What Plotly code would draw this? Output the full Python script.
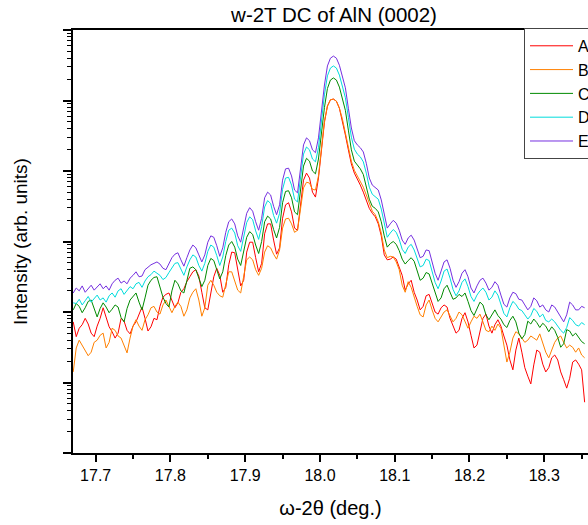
import math
import plotly.graph_objects as go

# Scan grid (omega-2theta, degrees)
SCAN_START = 17.670
SCAN_STEP = 0.004

series_names = ["A", "B", "C", "D", "E"]
series_colors = ["#ff0000", "#ff8000", "#008a00", "#00dcdc", "#7530e0"]

# log10 of intensity (arb. units), one value per scan step
A = [1.86,1.65,1.77,1.82,1.91,1.83,1.70,1.65,1.80,1.91,
     2.06,1.94,1.79,1.72,1.63,1.70,1.91,1.87,1.74,1.69,
     1.80,1.86,1.96,2.07,1.91,1.73,1.79,1.91,1.89,2.08,
     2.21,2.25,2.27,2.17,2.06,2.13,2.28,2.33,2.43,2.50,
     2.57,2.60,2.51,2.28,2.06,2.03,2.24,2.50,2.62,2.52,
     2.28,2.35,2.67,2.85,2.84,2.60,2.37,2.45,2.85,2.99,
     2.99,2.77,2.57,2.69,3.11,3.25,3.25,3.02,2.82,2.91,
     3.33,3.52,3.55,3.42,3.19,3.16,3.52,3.87,3.97,3.90,
     3.70,3.63,3.90,4.33,4.69,4.92,5.01,5.02,4.99,4.89,
     4.72,4.51,4.30,4.10,3.97,3.89,3.80,3.70,3.59,3.47,
     3.40,3.35,3.25,3.08,2.81,2.74,2.75,2.78,2.75,2.62,
     2.52,2.31,2.40,2.45,2.28,2.17,2.03,2.08,2.23,2.25,
     2.11,2.00,1.97,2.06,2.10,2.07,1.91,1.80,1.70,1.74,
     1.91,1.99,1.86,1.67,1.49,1.53,1.70,1.91,1.97,1.80,
     1.70,1.82,1.89,1.80,1.66,1.53,1.32,1.18,1.46,1.63,
     1.43,1.21,1.09,0.98,1.25,1.46,1.43,1.26,1.15,1.21,
     1.35,1.39,1.32,1.15,1.04,0.92,1.06,1.29,1.32,1.26,1.18,0.72]

B = [1.15,1.49,1.60,1.53,1.46,1.38,1.43,1.57,1.60,1.67,
     1.70,1.49,1.57,1.77,1.74,1.66,1.63,1.52,1.42,1.63,
     1.80,1.89,1.80,1.74,1.89,1.96,2.06,2.08,2.00,1.97,
     2.10,2.17,2.07,1.99,2.08,2.14,2.08,1.94,2.03,2.20,
     2.28,2.33,2.17,1.94,2.06,2.38,2.45,2.38,2.28,2.23,
     2.21,2.41,2.57,2.57,2.45,2.31,2.27,2.48,2.74,2.78,
     2.74,2.60,2.52,2.62,2.85,2.94,2.91,2.82,2.75,2.88,
     3.19,3.32,3.33,3.25,3.13,3.16,3.45,3.76,3.84,3.83,
     3.74,3.73,3.93,4.35,4.71,4.92,5.01,5.02,4.99,4.89,
     4.74,4.54,4.33,4.14,4.01,3.93,3.86,3.77,3.66,3.53,
     3.43,3.38,3.28,3.12,2.88,2.77,2.79,2.78,2.71,2.60,
     2.38,2.28,2.43,2.35,2.20,2.08,1.96,1.93,2.10,2.17,
     2.03,1.91,1.86,1.94,2.00,2.03,1.94,1.86,1.91,2.00,
     1.96,1.86,1.77,1.86,1.94,1.91,1.97,1.86,1.74,1.72,
     1.80,1.74,1.83,1.77,1.53,1.29,1.43,1.63,1.72,1.69,
     1.63,1.57,1.60,1.66,1.63,1.60,1.69,1.57,1.43,1.35,
     1.46,1.57,1.63,1.66,1.57,1.49,1.53,1.50,1.43,1.49,1.39,1.35]

C = [2.03,2.12,2.08,1.99,2.06,2.15,2.17,2.04,1.93,2.05,
     2.13,2.07,1.99,2.04,2.10,2.07,1.92,1.86,2.05,2.17,
     2.22,2.27,2.14,2.03,2.20,2.38,2.45,2.49,2.50,2.36,
     2.21,2.12,2.07,2.30,2.45,2.40,2.30,2.27,2.45,2.62,
     2.64,2.60,2.48,2.36,2.45,2.66,2.76,2.73,2.60,2.47,
     2.57,2.80,2.95,3.00,2.92,2.75,2.66,2.86,3.06,3.14,
     3.10,2.95,2.83,3.00,3.28,3.36,3.32,3.17,3.05,3.20,
     3.55,3.71,3.72,3.62,3.42,3.38,3.70,4.07,4.18,4.14,
     4.00,3.96,4.17,4.56,4.90,5.17,5.29,5.32,5.29,5.19,
     5.04,4.86,4.58,4.30,4.14,4.08,4.03,3.95,3.79,3.60,
     3.50,3.47,3.42,3.28,3.08,2.92,2.97,3.00,2.96,2.87,
     2.75,2.68,2.73,2.77,2.72,2.58,2.45,2.48,2.56,2.54,
     2.40,2.26,2.15,2.20,2.33,2.38,2.28,2.18,2.20,2.25,
     2.22,2.27,2.15,2.02,1.95,2.05,2.14,2.10,1.96,1.89,
     1.97,2.03,1.95,1.90,1.82,1.78,1.88,1.94,1.86,1.70,
     1.62,1.68,1.87,1.83,1.90,1.85,1.78,1.84,1.80,1.72,
     1.79,1.74,1.64,1.50,1.55,1.75,1.73,1.66,1.70,1.63,1.58,1.55]

D = [2.13,2.12,2.18,2.10,2.16,2.22,2.14,2.19,2.24,2.17,
     2.20,2.14,2.23,2.27,2.21,2.30,2.33,2.25,2.31,2.36,
     2.33,2.40,2.42,2.35,2.44,2.50,2.53,2.58,2.55,2.52,
     2.46,2.49,2.56,2.63,2.69,2.70,2.60,2.52,2.64,2.74,
     2.81,2.78,2.66,2.58,2.69,2.86,2.95,2.92,2.80,2.66,
     2.78,3.00,3.16,3.19,3.12,2.94,2.86,3.06,3.27,3.35,
     3.31,3.15,3.03,3.21,3.49,3.58,3.54,3.37,3.26,3.40,
     3.74,3.90,3.91,3.80,3.60,3.56,3.88,4.24,4.34,4.30,
     4.17,4.13,4.33,4.73,5.08,5.35,5.46,5.49,5.46,5.36,
     5.21,5.04,4.76,4.48,4.31,4.24,4.20,4.13,3.97,3.77,
     3.67,3.64,3.60,3.46,3.26,3.06,3.12,3.17,3.13,3.03,
     2.89,2.83,2.92,2.96,2.88,2.75,2.64,2.66,2.75,2.73,
     2.58,2.42,2.33,2.44,2.58,2.61,2.48,2.32,2.23,2.30,
     2.42,2.47,2.36,2.22,2.15,2.24,2.30,2.34,2.28,2.17,
     2.21,2.30,2.24,2.10,1.98,1.93,2.06,2.15,2.11,2.04,
     2.02,1.96,1.90,1.95,2.05,2.01,1.93,1.97,1.88,1.86,
     1.90,1.86,1.80,1.74,1.70,1.78,1.92,1.88,1.82,1.80,1.85,1.82]

E = [2.27,2.34,2.30,2.37,2.28,2.33,2.38,2.31,2.35,2.40,
     2.33,2.37,2.31,2.40,2.45,2.48,2.41,2.44,2.40,2.48,
     2.52,2.57,2.50,2.51,2.60,2.64,2.67,2.69,2.71,2.68,
     2.62,2.60,2.68,2.77,2.82,2.84,2.74,2.65,2.77,2.88,
     2.95,2.91,2.81,2.71,2.81,2.99,3.08,3.06,2.94,2.79,
     2.91,3.13,3.28,3.32,3.25,3.08,2.99,3.19,3.40,3.48,
     3.43,3.28,3.16,3.33,3.62,3.70,3.66,3.50,3.38,3.52,
     3.87,4.03,4.04,3.93,3.73,3.69,4.01,4.37,4.47,4.43,
     4.30,4.26,4.47,4.87,5.22,5.49,5.60,5.63,5.60,5.50,
     5.35,5.18,4.89,4.61,4.43,4.37,4.33,4.27,4.11,3.90,
     3.80,3.77,3.73,3.59,3.39,3.19,3.25,3.30,3.26,3.16,
     3.02,2.96,3.05,3.09,3.02,2.88,2.77,2.79,2.88,2.87,
     2.71,2.55,2.45,2.57,2.71,2.74,2.62,2.45,2.35,2.43,
     2.55,2.60,2.50,2.34,2.27,2.37,2.45,2.48,2.41,2.31,
     2.35,2.43,2.38,2.24,2.11,2.07,2.20,2.28,2.26,2.18,
     2.17,2.10,2.03,2.08,2.20,2.16,2.07,2.10,2.03,2.00,
     2.10,2.07,2.00,1.91,1.86,1.96,2.14,2.10,2.03,2.03,2.08,2.06]

series_values = [A, B, C, D, E]

x_ticks_major = [17.7, 17.8, 17.9, 18.0, 18.1, 18.2, 18.3]
decades = list(range(0, 7))

fig = go.Figure()
for name, vals, color in zip(series_names, series_values, series_colors):
    fig.add_trace(go.Scatter(
        x0=SCAN_START, dx=SCAN_STEP, y=vals, mode="lines", name=name,
        line=dict(color=color, width=1), hoverinfo="skip"))

minor_y = [d + math.log10(k) for d in range(6) for k in range(2, 10)]

fig.update_layout(
    width=588, height=525,
    margin=dict(l=73, r=0, t=30, b=72, autoexpand=False),
    paper_bgcolor="white", plot_bgcolor="white",
    font=dict(family="Liberation Sans, Arial, sans-serif", color="black"),
    title=dict(text="w-2T DC of AlN (0002)", xref="container", x=334/588,
               xanchor="center", yref="container", y=1 - 15/525, yanchor="middle",
               font=dict(size=20.5, color="black")),
    showlegend=True,
    legend=dict(x=(524 - 73) / 515, xanchor="left", y=1.005, yanchor="top",
                bordercolor="#444444", borderwidth=1, bgcolor="white",
                font=dict(size=16, color="black"), itemwidth=43, tracegroupgap=0),
    xaxis=dict(range=[17.6697, 18.3585], showline=True, linecolor="black", linewidth=2,
               mirror=True, ticks="outside", ticklen=7, tickwidth=1.5, tickcolor="black",
               tickvals=x_ticks_major, tickformat=".1f", tickfont=dict(size=16),
               showgrid=False, zeroline=False,
               minor=dict(tick0=17.65, dtick=0.05, ticks="outside", ticklen=4,
                          tickwidth=1.5, tickcolor="black", showgrid=False),
               title=dict(text="ω-2θ (deg.)", font=dict(size=20), standoff=18)),
    yaxis=dict(range=[0, 6], showline=True, linecolor="black", linewidth=2,
               ticks="outside", ticklen=8, tickwidth=1.5, tickcolor="black",
               tickvals=decades, showticklabels=False, showgrid=False, zeroline=False,
               minor=dict(tickvals=minor_y, ticks="outside", ticklen=4, tickwidth=1,
                          tickcolor="black", showgrid=False),
               title=dict(text="Intensity (arb. units)", font=dict(size=19), standoff=30)),
)

fig.write_html("out.html")
